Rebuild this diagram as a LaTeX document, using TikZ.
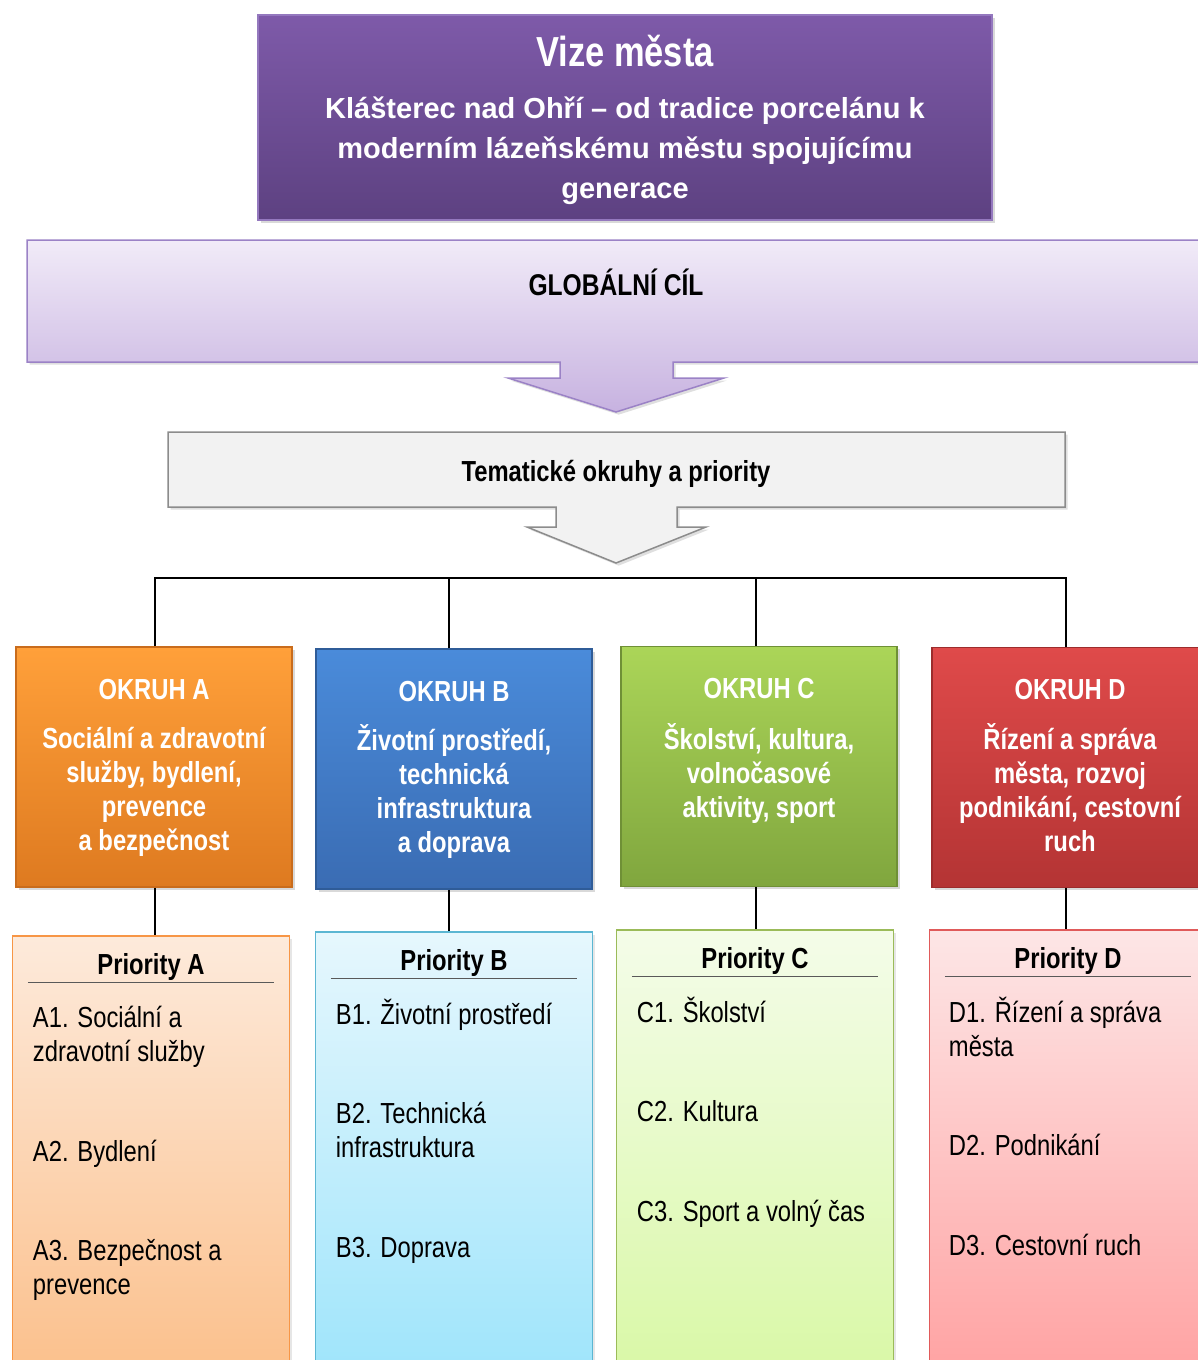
\documentclass[tikz,border=0pt]{standalone}
\usepackage{fontspec}
\setmainfont{Liberation Sans}
\newfontfamily\uzky{Liberation Sans}[FakeStretch=0.82]
\usetikzlibrary{calc,shadows}

% barvy
\definecolor{vizeTop}{HTML}{7E5AA9}
\definecolor{vizeBot}{HTML}{5D4181}
\definecolor{vizeLine}{HTML}{9478BE}
\definecolor{globTop}{HTML}{F1EBF8}
\definecolor{globBot}{HTML}{C7B2E0}
\definecolor{globLine}{HTML}{9B82C6}
\definecolor{temFill}{HTML}{F2F2F2}
\definecolor{temLine}{HTML}{8C8C8C}
\definecolor{okAtop}{HTML}{FFA03A}
\definecolor{okAbot}{HTML}{DE7A20}
\definecolor{okAline}{HTML}{C96C1C}
\definecolor{okBtop}{HTML}{4A8BDA}
\definecolor{okBbot}{HTML}{3A6CB3}
\definecolor{okBline}{HTML}{2F5C98}
\definecolor{okCtop}{HTML}{ABD558}
\definecolor{okCbot}{HTML}{80A63E}
\definecolor{okCline}{HTML}{6F9036}
\definecolor{okDtop}{HTML}{DF4A4A}
\definecolor{okDbot}{HTML}{B43434}
\definecolor{okDline}{HTML}{9C2C2C}
\definecolor{prAtop}{HTML}{FDEADB}
\definecolor{prAbot}{HTML}{FBBE88}
\definecolor{prAline}{HTML}{F79646}
\definecolor{prBtop}{HTML}{E6F7FD}
\definecolor{prBbot}{HTML}{9CE4FB}
\definecolor{prBline}{HTML}{5BB6D2}
\definecolor{prCtop}{HTML}{F4FCE9}
\definecolor{prCbot}{HTML}{D8F8A4}
\definecolor{prCline}{HTML}{9BBB59}
\definecolor{prDtop}{HTML}{FDE6E6}
\definecolor{prDbot}{HTML}{FFA0A0}
\definecolor{prDline}{HTML}{E05A5A}

\begin{document}
\begin{tikzpicture}[x=1pt, y=-1pt,
    okbox/.style={line width=1.5pt, minimum width=276, minimum height=240, inner sep=0pt,
      drop shadow={opacity=0.3}},
    oktitle/.style={text=white, font=\uzky\bfseries\fontsize{29}{34}\selectfont},
    okbody/.style={text=white, anchor=north, align=center, inner sep=0pt,
      font=\uzky\bfseries\fontsize{29}{34}\selectfont},
    prbox/.style={line width=1.5pt, minimum width=277, minimum height=460, inner sep=0pt,
      drop shadow={opacity=0.2}},
    prhead/.style={font=\uzky\bfseries\fontsize{29}{34}\selectfont},
    pritem/.style={anchor=west, align=left, inner sep=0pt,
      font=\uzky\fontsize{29}{34}\selectfont},
    podtrh/.style={draw=black!65, line width=1.5pt},
    spoj/.style={draw=black, line width=2pt}]
    \useasboundingbox (0,0) rectangle (1198,1360);
    \clip (0,0) rectangle (1198,1360);

    % Vize mesta
    \node[draw=vizeLine, line width=1.5pt, top color=vizeTop, bottom color=vizeBot,
      minimum width=734, minimum height=205, drop shadow={opacity=0.3}] (vize) at (625,117.5) {};
    \node[text=white, font=\uzky\bfseries\fontsize{42}{48}\selectfont] (vizeT) at (625,51) {Vize města};
    \node[text=white, align=center, font=\bfseries\fontsize{29}{40}\selectfont] (vizeS) at (625,151)
      {Klášterec nad Ohří – od tradice porcelánu k\\moderním lázeňskému městu spojujícímu\\generace};

    % Globalni cil se sipkou
    \path[draw=globLine, line width=1.5pt, top color=globTop, bottom color=globBot, drop shadow={opacity=0.25}]
      (27,240) -- (1215,240) -- (1215,362) -- (673,362) -- (673,378) -- (724,378) -- (616,412)
      -- (508,378) -- (560,378) -- (560,362) -- (27,362) -- cycle;
    \node[font=\uzky\bfseries\fontsize{30}{34}\selectfont] (glob) at (616,282) {GLOBÁLNÍ CÍL};

    % Tematicke okruhy se sipkou
    \path[draw=temLine, line width=1.5pt, fill=temFill, drop shadow={opacity=0.25}]
      (168,432) -- (1065,432) -- (1065,507) -- (677,507) -- (677,527) -- (706,527) -- (616,563)
      -- (527,527) -- (556,527) -- (556,507) -- (168,507) -- cycle;
    \node[font=\uzky\bfseries\fontsize{29}{34}\selectfont] (tem) at (616,474) {Tematické okruhy a priority};

    % Okruhy
    \node[okbox, draw=okAline, top color=okAtop, bottom color=okAbot] (okA) at (154,767) {};
    \node[okbox, draw=okBline, top color=okBtop, bottom color=okBbot] (okB) at (454,769) {};
    \node[okbox, draw=okCline, top color=okCtop, bottom color=okCbot] (okC) at (759,766.5) {};
    \node[okbox, draw=okDline, top color=okDtop, bottom color=okDbot] (okD) at (1070,767.5) {};

    \node[oktitle] (okAt) at ($(okA.north)+(0,43)$) {OKRUH A};
    \node[oktitle] (okBt) at ($(okB.north)+(0,43)$) {OKRUH B};
    \node[oktitle] (okCt) at ($(okC.north)+(0,43)$) {OKRUH C};
    \node[oktitle] (okDt) at ($(okD.north)+(0,43)$) {OKRUH D};

    \node[okbody] (okAb) at ($(okA.north)+(0,81)$) {Sociální a zdravotní\\služby, bydlení,\\prevence\\a bezpečnost};
    \node[okbody] (okBb) at ($(okB.north)+(0,76)$) {Životní prostředí,\\technická\\infrastruktura\\a doprava};
    \node[okbody] (okCb) at ($(okC.north)+(0,78)$) {Školství, kultura,\\volnočasové\\aktivity, sport};
    \node[okbody] (okDb) at ($(okD.north)+(0,77)$) {Řízení a správa\\města, rozvoj\\podnikání, cestovní\\ruch};

    % Spojnice k okruhum
    \coordinate (bus) at (0,578);
    \draw[spoj] ([xshift=1]okA.north) -- ([xshift=1]okA.north |- bus) -- ([xshift=-4]okD.north |- bus) -- ([xshift=-4]okD.north);
    \draw[spoj] ([xshift=-5]okB.north) -- ([xshift=-5]okB.north |- bus);
    \draw[spoj] ([xshift=-3]okC.north) -- ([xshift=-3]okC.north |- bus);

    % Priority
    \node[prbox, draw=prAline, top color=prAtop, bottom color=prAbot] (prA) at (151,1166) {};
    \node[prbox, draw=prBline, top color=prBtop, bottom color=prBbot] (prB) at (454,1162) {};
    \node[prbox, draw=prCline, top color=prCtop, bottom color=prCbot] (prC) at (755,1160) {};
    \node[prbox, draw=prDline, top color=prDtop, bottom color=prDbot] (prD) at (1068,1160) {};

    \draw[spoj] ([xshift=1]okA.south) -- ([xshift=1]okA.south |- prA.north);
    \draw[spoj] ([xshift=-5]okB.south) -- ([xshift=-5]okB.south |- prB.north);
    \draw[spoj] ([xshift=-3]okC.south) -- ([xshift=-3]okC.south |- prC.north);
    \draw[spoj] ([xshift=-4]okD.south) -- ([xshift=-4]okD.south |- prD.north);

    \node[prhead] (prAh) at ($(prA.north)+(0,32)$) {Priority A};
    \node[prhead] (prBh) at ($(prB.north)+(0,32)$) {Priority B};
    \node[prhead] (prCh) at ($(prC.north)+(0,32)$) {Priority C};
    \node[prhead] (prDh) at ($(prD.north)+(0,32)$) {Priority D};

    \draw[podtrh] ($(prA.north west)+(16,47)$) -- ($(prA.north east)+(-16,47)$);
    \draw[podtrh] ($(prB.north west)+(16,47)$) -- ($(prB.north east)+(-16,47)$);
    \draw[podtrh] ($(prC.north west)+(16,47)$) -- ($(prC.north east)+(-16,47)$);
    \draw[podtrh] ($(prD.north west)+(16,47)$) -- ($(prD.north east)+(-16,47)$);

    \node[pritem] (prA1) at ($(prA.north west)+(21,102)$) {A1. Sociální a\\zdravotní služby};
    \node[pritem] (prA2) at ($(prA.north west)+(21,219)$) {A2. Bydlení};
    \node[pritem] (prA3) at ($(prA.north west)+(21,335)$) {A3. Bezpečnost a\\prevence};

    \node[pritem] (prB1) at ($(prB.north west)+(21,84)$) {B1. Životní prostředí};
    \node[pritem] (prB2) at ($(prB.north west)+(21,199)$) {B2. Technická\\infrastruktura};
    \node[pritem] (prB3) at ($(prB.north west)+(21,319)$) {B3. Doprava};

    \node[pritem] (prC1) at ($(prC.north west)+(21,81)$) {C1. Školství};
    \node[pritem] (prC2) at ($(prC.north west)+(21,182)$) {C2. Kultura};
    \node[pritem] (prC3) at ($(prC.north west)+(21,285)$) {C3. Sport a volný čas};

    \node[pritem] (prD1) at ($(prD.north west)+(20,98)$) {D1. Řízení a správa\\města};
    \node[pritem] (prD2) at ($(prD.north west)+(20,216)$) {D2. Podnikání};
    \node[pritem] (prD3) at ($(prD.north west)+(20,316)$) {D3. Cestovní ruch};
\end{tikzpicture}
\end{document}
